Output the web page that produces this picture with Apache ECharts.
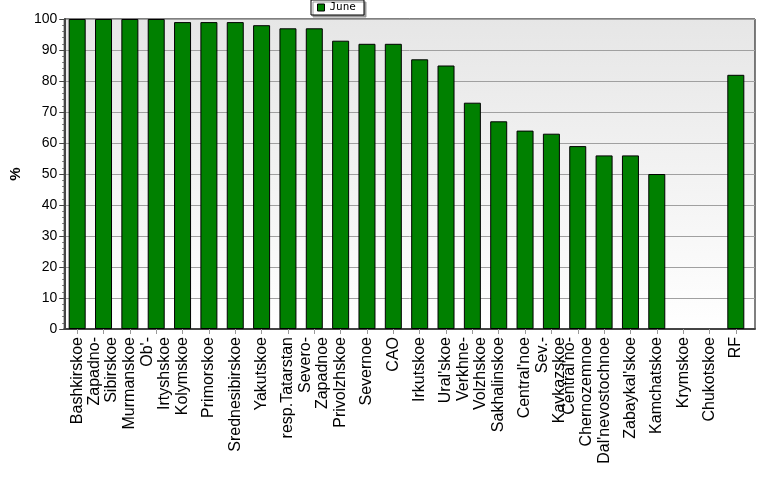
<!DOCTYPE html>
<html>
<head>
<meta charset="utf-8">
<title>June</title>
<style>
  * { margin: 0; padding: 0; }
  body { background: #fff; }
</style>
</head>
<body>
<div id="chart" style="width: 777px; height: 479px;"></div>
<script src="https://cdn.jsdelivr.net/npm/echarts@6/dist/echarts.min.js"></script>
<script>
var regions = [
  'Bashkirskoe', 'Zapadno-\nSibirskoe', 'Murmanskoe', 'Ob\'-\nIrtyshskoe', 'Kolymskoe',
  'Primorskoe', 'Srednesibirskoe', 'Yakutskoe', 'resp.Tatarstan', 'Severo-\nZapadnoe',
  'Privolzhskoe', 'Severnoe', 'CAO', 'Irkutskoe', 'Ural\'skoe', 'Verkhne-\nVolzhskoe',
  'Sakhalinskoe', 'Central\'noe', 'Sev.-\nKavkazskoe', 'Central\'no-\nChernozemnoe',
  'Dal\'nevostochnoe', 'Zabaykal\'skoe', 'Kamchatskoe', 'Krymskoe', 'Chukotskoe', 'RF'
];
var june = [100, 100, 100, 100, 99, 99, 99, 98, 97, 97, 93, 92, 92, 87, 85, 73,
  67, 64, 63, 59, 56, 56, 50, 0, 0, 82];
var yTicks = { min: 0, max: 100, interval: 10 };

var chart = echarts.init(document.getElementById('chart'));

// zero values draw no outline at all
var juneData = june.map(function (v) {
  return v === 0 ? { value: v, itemStyle: { borderWidth: 0, opacity: 0 } } : v;
});

var option = {
  animation: false,
  textStyle: { fontFamily: 'Liberation Sans' },
  legend: {
    data: ['June'],
    top: 0,
    left: 311,
    itemWidth: 7,
    itemHeight: 7,
    itemGap: 4,
    padding: [2, 8, 2, 6],
    backgroundColor: '#fff',
    borderColor: '#000',
    borderWidth: 1,
    borderRadius: 0,
    shadowColor: '#999',
    shadowOffsetX: 2,
    shadowOffsetY: 2,
    shadowBlur: 0,
    icon: 'rect',
    itemStyle: { borderColor: '#000', borderWidth: 1 },
    textStyle: { fontFamily: 'DejaVu Sans Mono', fontSize: 11, color: '#000', padding: [0, 0, 0, 0] }
  },
  grid: [
    {
      left: 58, right: 22, top: 19, bottom: 150,
      show: true,
      borderColor: '#000',
      borderWidth: 1,
      backgroundColor: new echarts.graphic.LinearGradient(0, 0, 0, 1, [
        { offset: 0, color: '#e6e6e6' },
        { offset: 1, color: '#ffffff' }
      ])
    },
    { left: 64, right: 28, top: 19, bottom: 150 }
  ],
  xAxis: [
    {
      gridIndex: 0, type: 'value', min: 0, max: 1,
      axisLabel: { show: false }, axisTick: { show: false }, splitLine: { show: false },
      axisLine: { show: true, lineStyle: { color: '#444', width: 2 } }
    },
    {
      gridIndex: 1, type: 'category', data: regions,
      axisLine: { show: false },
      axisTick: { show: true, alignWithLabel: true, length: 5, lineStyle: { color: '#999' } },
      axisLabel: {
        interval: 0, rotate: 90, margin: 8,
        color: '#000', fontSize: 16, lineHeight: 17,
        fontFamily: 'Liberation Sans'
      }
    }
  ],
  yAxis: [
    {
      gridIndex: 0, type: 'value',
      min: yTicks.min, max: yTicks.max, interval: yTicks.interval,
      name: '%', nameLocation: 'middle', nameRotate: 90, nameGap: 38,
      nameTextStyle: { fontWeight: 'bold', fontSize: 15, color: '#000' },
      axisLine: { show: true, lineStyle: { color: '#444', width: 2 } },
      axisTick: { show: true, length: 5, lineStyle: { color: '#444' } },
      minorTick: { show: true, splitNumber: 5, length: 2, lineStyle: { color: '#666' } },
      axisLabel: { color: '#000', fontSize: 14, margin: 7 },
      splitLine: { show: true, lineStyle: { color: '#a0a0a0', width: 1 } }
    },
    {
      gridIndex: 1, type: 'value',
      min: yTicks.min, max: yTicks.max, interval: yTicks.interval,
      show: false, splitLine: { show: false }
    }
  ],
  series: [
    {
      name: 'June',
      type: 'bar',
      xAxisIndex: 1,
      yAxisIndex: 1,
      data: juneData,
      barWidth: 17,
      itemStyle: { color: '#008000', borderColor: '#000', borderWidth: 1 }
    }
  ]
};

chart.setOption(option);
</script>
</body>
</html>
